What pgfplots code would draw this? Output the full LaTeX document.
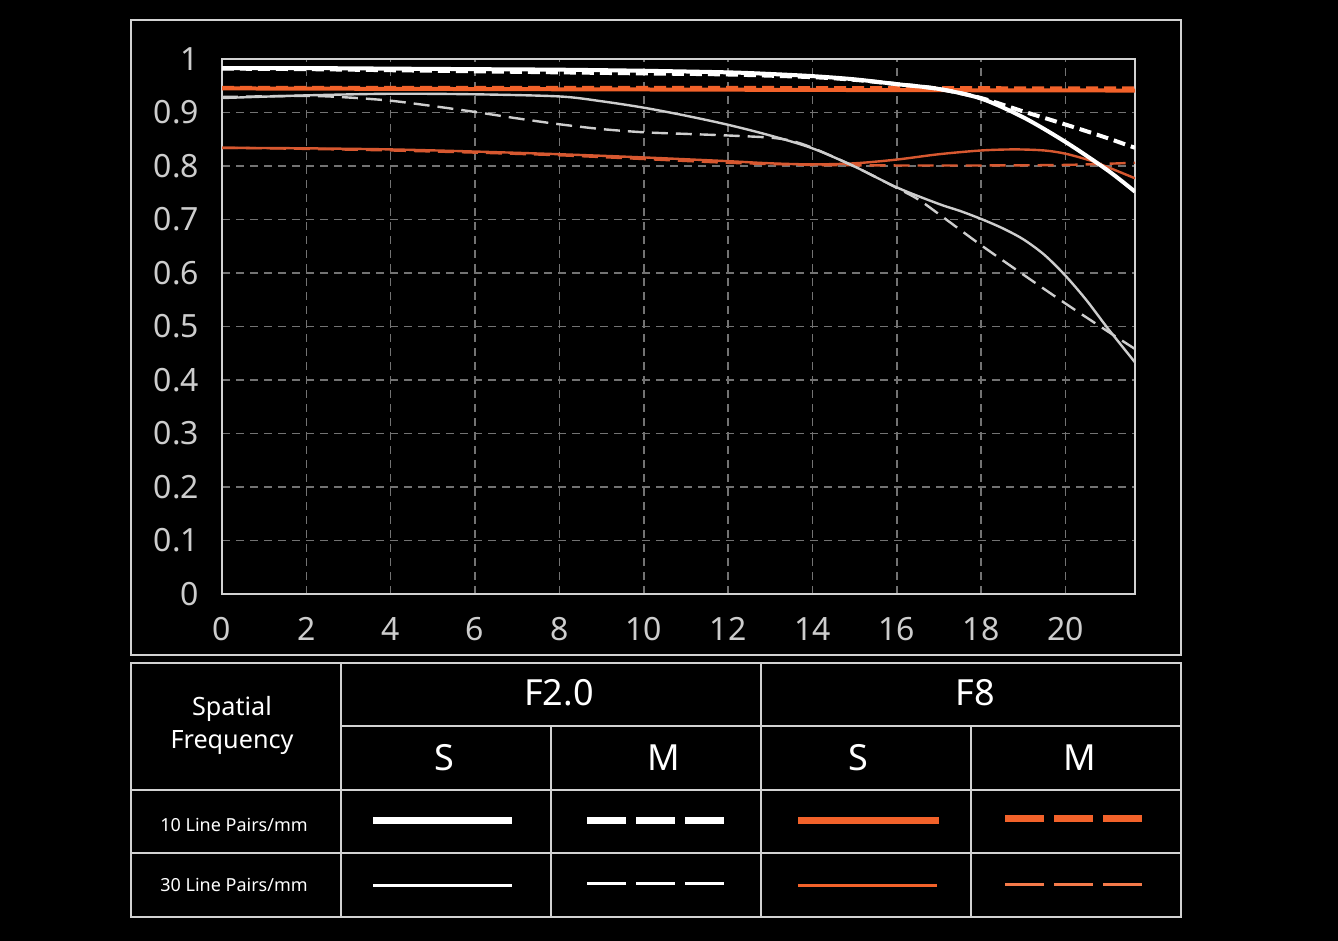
\documentclass[border=0pt]{standalone}
\usepackage{pgfplots}
\pgfplotsset{compat=1.18}
\usepackage{fontspec}
\setmainfont{Noto Sans}
\definecolor{orgthick}{RGB}{242,98,42}
\definecolor{orgthin}{RGB}{215,88,48}
\definecolor{gridc}{RGB}{115,115,115}
\definecolor{framec}{RGB}{210,210,210}
\definecolor{tickc}{RGB}{205,205,205}
\definecolor{thinw}{RGB}{205,205,205}
\begin{document}
\begin{tikzpicture}
\path[use as bounding box, fill=black] (0,0) rectangle (669pt,470.5pt);
\begin{scope}[x=0.5pt,y=-0.5pt,shift={(0pt,470.5pt)}]
  % outer frame of chart
  \draw[framec, line width=1pt] (131,20) rectangle (1181,655);
  % table
  \draw[framec, line width=1.2pt] (131,663) rectangle (1181,917);
  \draw[framec, line width=1.2pt] (341,726) -- (1181,726);
  \draw[framec, line width=1.2pt] (131,790) -- (1181,790);
  \draw[framec, line width=1.2pt] (131,853) -- (1181,853);
  \draw[framec, line width=1.2pt] (341,663) -- (341,917);
  \draw[framec, line width=1.2pt] (761,663) -- (761,917);
  \draw[framec, line width=1.2pt] (551,726) -- (551,917);
  \draw[framec, line width=1.2pt] (971,726) -- (971,917);
  % table texts
  \node[white, align=center, font=\fontsize{12.6}{16.5}\selectfont] at (232,725) {Spatial\\Frequency};
  \node[white, font=\fontsize{18}{20}\selectfont] at (559,693) {F2.0};
  \node[white, font=\fontsize{18}{20}\selectfont] at (975,693) {F8};
  \node[white, font=\fontsize{18}{20}\selectfont] at (444,758) {S};
  \node[white, font=\fontsize{18}{20}\selectfont] at (664,758) {M};
  \node[white, font=\fontsize{18}{20}\selectfont] at (858,758) {S};
  \node[white, font=\fontsize{18}{20}\selectfont] at (1080,758) {M};
  \node[white, font=\fontsize{9}{11}\selectfont] at (234,825) {10 Line Pairs/mm};
  \node[white, font=\fontsize{9}{11}\selectfont] at (234,885) {30 Line Pairs/mm};
  % legend samples
  \draw[white, line width=3.5pt] (373,821) -- (512,821);
  \draw[white, line width=3.5pt, dash pattern=on 19.3pt off 5.2pt] (587,821) -- (724,821);
  \draw[orgthick, line width=3.5pt] (798,821) -- (939,821);
  \draw[orgthick, line width=3.5pt, dash pattern=on 19.3pt off 5.2pt] (1005,819) -- (1143,819);
  \draw[white, line width=1.5pt] (373,886) -- (512,886);
  \draw[white, line width=1.5pt, dash pattern=on 19.3pt off 5.2pt] (587,884) -- (724,884);
  \draw[orgthick, line width=1.5pt] (798,886) -- (937,886);
  \draw[orgthick!85!white, line width=1.5pt, dash pattern=on 19.3pt off 5.2pt] (1005,885) -- (1143,885);
\end{scope}
\begin{axis}[
  at={(111pt,173.5pt)}, anchor=south west,
  scale only axis, width=456.5pt, height=267.5pt,
  xmin=0, xmax=21.65, ymin=0, ymax=1,
  xtick={0,2,4,6,8,10,12,14,16,18,20},
  xticklabels={0,2,4,6,8,10,12,14,16,18,20},
  ytick={0,0.1,0.2,0.3,0.4,0.5,0.6,0.7,0.8,0.9,1},
  yticklabels={0,0.1,0.2,0.3,0.4,0.5,0.6,0.7,0.8,0.9,1},
  grid=major,
  major grid style={gridc, line width=0.8pt, dash pattern=on 4pt off 3pt},
  axis line style={framec, line width=1.2pt},
  major tick length=0pt,
  tick style={draw=none},
  ticklabel style={font=\fontsize{16}{18}\selectfont, text=tickc},
  /pgf/number format/assume math mode=true,
  xticklabel style={yshift=-8pt},
  yticklabel style={xshift=-8pt},
]
% F8 M 30 (thin orange dashed)
\addplot[orgthin, line width=1.2pt, dash pattern=on 8pt off 4pt, smooth] coordinates {
(0,0.834)(2,0.832)(4,0.829)(6,0.825)(8,0.820)(10,0.813)(12,0.806)(14,0.802)(16,0.801)(18,0.801)(20,0.802)(21.65,0.806)};
% F8 S 30 (thin orange solid)
\addplot[orgthin, line width=1.2pt, smooth] coordinates {
(0,0.834)(2,0.833)(4,0.831)(6,0.827)(8,0.822)(10,0.816)(12,0.809)(13,0.805)(14,0.803)(15,0.805)(16,0.812)(17,0.822)(18,0.829)(18.8,0.831)(19.5,0.829)(20,0.823)(20.6,0.810)(21,0.798)(21.65,0.777)};
% F2.0 M 30 (thin white dashed)
\addplot[thinw, line width=1.2pt, dash pattern=on 8pt off 4pt, smooth] coordinates {
(0,0.929)(2,0.931)(3,0.928)(4,0.922)(5,0.912)(6,0.901)(7,0.889)(8,0.878)(9,0.869)(10,0.863)(11,0.860)(12,0.857)(13,0.853)(13.5,0.847)(14,0.834)(15,0.799)(16,0.759)(16.5,0.738)(17,0.710)(18,0.652)(19,0.597)(20,0.543)(21,0.491)(21.65,0.458)};
% F2.0 S 30 (thin white solid)
\addplot[thinw, line width=1.2pt, smooth] coordinates {
(0,0.927)(2,0.932)(4,0.935)(6,0.934)(8,0.930)(9,0.921)(10,0.909)(11,0.894)(12,0.877)(13,0.857)(14,0.833)(15,0.799)(16,0.760)(17,0.729)(17.5,0.716)(18,0.701)(18.5,0.684)(19,0.663)(19.5,0.634)(20,0.595)(20.5,0.549)(21,0.497)(21.65,0.433)};
% F8 S 10 (thick orange solid)
\addplot[orgthick, line width=2pt, smooth] coordinates {
(0,0.945)(5,0.944)(10,0.943)(15,0.942)(21.65,0.941)};
% F8 M 10 (thick orange dashed)
\addplot[orgthick, line width=2pt, dash pattern=on 6pt off 3pt, smooth] coordinates {
(0,0.946)(10,0.946)(21.65,0.945)};
% F2.0 M 10 (thick white dashed)
\addplot[white, line width=2pt, dash pattern=on 6pt off 3pt, smooth] coordinates {
(0,0.982)(2,0.981)(4,0.979)(6,0.977)(8,0.975)(10,0.973)(12,0.971)(14,0.966)(15,0.961)(16,0.953)(17,0.944)(18,0.927)(19,0.902)(19.7,0.885)(20.5,0.865)(21,0.852)(21.65,0.834)};
% F2.0 S 10 (thick white solid)
\addplot[white, line width=2pt, smooth] coordinates {
(0,0.983)(2,0.983)(4,0.982)(6,0.981)(8,0.980)(10,0.978)(12,0.975)(13,0.972)(14,0.968)(15,0.962)(16,0.953)(17,0.944)(18,0.926)(19,0.891)(20,0.845)(21,0.792)(21.65,0.752)};
\end{axis}
\end{tikzpicture}
\end{document}
